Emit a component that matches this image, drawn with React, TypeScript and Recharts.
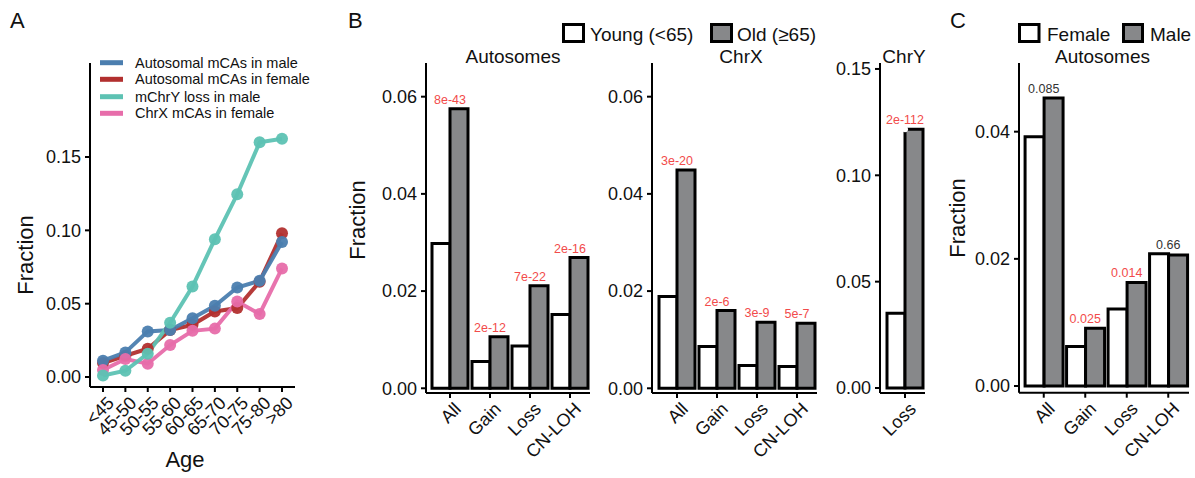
import { LineChart, Line, ComposedChart, Bar, XAxis, YAxis, LabelList } from 'recharts'

const FONT = '"Liberation Sans", Arial, Helvetica, sans-serif'
const INK = '#111'
const GREY = '#87888a'
const PAGE_H = 478

// ---- panel A: fraction by age group ----
const ageGroups = ['<45', '45-50', '50-55', '55-60', '60-65', '65-70', '70-75', '75-80', '>80']
const autoMale = [0.0111, 0.0168, 0.0311, 0.032, 0.040, 0.0486, 0.061, 0.0656, 0.092]
const autoFemale = [0.0095, 0.0145, 0.0193, 0.032, 0.0356, 0.0447, 0.047, 0.065, 0.098]
const chrYLossMale = [0.001, 0.0043, 0.0159, 0.037, 0.0617, 0.094, 0.1246, 0.160, 0.1625]
const chrXFemale = [0.0048, 0.0123, 0.0091, 0.0218, 0.0315, 0.033, 0.0515, 0.043, 0.074]
const ageTicks = [0, 0.05, 0.1, 0.15]

// legend order
const ageSeries = [
  { key: 'autoMale', name: 'Autosomal mCAs in male', color: '#4b7eaf' },
  { key: 'autoFemale', name: 'Autosomal mCAs in female', color: '#b2302f' },
  { key: 'chrY', name: 'mChrY loss in male', color: '#5dc2b3' },
  { key: 'chrX', name: 'ChrX mCAs in female', color: '#e76daa' },
]
// points are drawn in factor (alphabetical) order, on top of all lines
const drawOrder = ['autoFemale', 'autoMale', 'chrX', 'chrY']

// ---- panel B: young vs old ----
const mcaTypes = ['All', 'Gain', 'Loss', 'CN-LOH']
const autoYoung = [0.0298, 0.0055, 0.0087, 0.0152]
const autoOld = [0.0575, 0.0106, 0.0211, 0.0269]
const autoAgeP = ['8e-43', '2e-12', '7e-22', '2e-16']
const chrXYoung = [0.0189, 0.0086, 0.0047, 0.0045]
const chrXOld = [0.0449, 0.016, 0.0136, 0.0134]
const chrXAgeP = ['3e-20', '2e-6', '3e-9', '5e-7']
const chrYTypes = ['Loss']
const chrYYoung = [0.0352]
const chrYOld = [0.1217]
const chrYAgeP = ['2e-112']
const smallTicks = [0, 0.02, 0.04, 0.06]
const chrYTicks = [0, 0.05, 0.1, 0.15]

// ---- panel C: female vs male ----
const autoFemaleFrac = [0.0392, 0.0062, 0.0121, 0.0208]
const autoMaleFrac = [0.0453, 0.0091, 0.0163, 0.0206]
const sexP = ['0.085', '0.025', '0.014', '0.66']
const sexTicks = [0, 0.02, 0.04]

type Frame = { left: number; top: number; right: number; bottom: number }

const PAD = 80
const Y_W = 60
const X_H = 60

function wrap(f: Frame) {
  return {
    style: { position: 'absolute' as const, left: f.left - PAD, top: 0 },
    width: f.right - f.left + PAD + 12,
    margin: { left: PAD - Y_W, right: 12, top: f.top, bottom: PAGE_H - f.bottom - X_H },
  }
}

const axisStroke = { stroke: '#000', strokeWidth: 2 }
const fmt = (v: number) => v.toFixed(2)

function SlantTick({ x, y, payload }: any) {
  return (
    <text
      transform={`translate(${x + 3},${y + 1}) rotate(-45)`}
      textAnchor="end"
      dy="0.72em"
      fontSize={18}
      fill={INK}
    >
      {payload.value}
    </text>
  )
}

function PLabel(props: any) {
  const x = props.x ?? props.viewBox?.x
  const y = props.y ?? props.viewBox?.y
  const sig = parseFloat(props.value) < 0.05
  return (
    <text x={x} y={y - 5} textAnchor="middle" fontSize={12.5} fill={sig ? '#f24b4b' : '#333'}>
      {props.value}
    </text>
  )
}

function AgePanel() {
  const f: Frame = { left: 90, top: 63, right: 295, bottom: 387 }
  const w = wrap(f)
  const rows = ageGroups.map((g, i) => ({
    age: g,
    autoMale: autoMale[i],
    autoFemale: autoFemale[i],
    chrY: chrYLossMale[i],
    chrX: chrXFemale[i],
  }))
  const colorOf = (k: string) => ageSeries.find((s) => s.key === k)!.color
  return (
    <div style={w.style}>
      <LineChart width={w.width} height={PAGE_H} data={rows} margin={w.margin}>
        <XAxis
          dataKey="age"
          height={X_H}
          interval={0}
          padding={{ left: 13, right: 13 }}
          axisLine={axisStroke}
          tickLine={axisStroke}
          tickSize={5}
          tickMargin={2}
          tick={<SlantTick />}
        />
        <YAxis
          width={Y_W}
          type="number"
          domain={[-0.0068, 0.2141]}
          allowDataOverflow
          ticks={ageTicks}
          tickFormatter={fmt}
          axisLine={axisStroke}
          tickLine={axisStroke}
          tickSize={5}
          tickMargin={4}
          tick={{ fontSize: 18, fill: INK }}
        />
        {drawOrder.map((k) => (
          <Line
            key={'l-' + k}
            dataKey={k}
            stroke={colorOf(k)}
            strokeWidth={4}
            strokeOpacity={0.95}
            dot={false}
            activeDot={false}
            isAnimationActive={false}
          />
        ))}
        {drawOrder.map((k) => (
          <Line
            key={'p-' + k}
            dataKey={k}
            stroke="none"
            dot={{ r: 6, fill: colorOf(k), fillOpacity: 0.95, stroke: 'none' }}
            activeDot={false}
            isAnimationActive={false}
          />
        ))}
      </LineChart>
    </div>
  )
}

type BarPanelProps = {
  frame: Frame
  padLeft: number
  cats: string[]
  first: number[]
  second: number[]
  p: string[]
  domain: [number, number]
  ticks: number[]
}

function BarPanel({ frame, padLeft, cats, first, second, p, domain, ticks }: BarPanelProps) {
  const w = wrap(frame)
  const rows = cats.map((c, i) => ({
    type: c,
    first: first[i],
    second: second[i],
    top: Math.max(first[i], second[i]),
    p: p[i],
  }))
  return (
    <div style={w.style}>
      <ComposedChart
        width={w.width}
        height={PAGE_H}
        data={rows}
        margin={w.margin}
        barCategoryGap="5%"
        barGap={0}
      >
        <XAxis
          dataKey="type"
          height={X_H}
          interval={0}
          padding={{ left: padLeft, right: 0 }}
          axisLine={axisStroke}
          tickLine={axisStroke}
          tickSize={5}
          tickMargin={2}
          tick={<SlantTick />}
        />
        <YAxis
          width={Y_W}
          type="number"
          domain={domain}
          allowDataOverflow
          ticks={ticks}
          tickFormatter={fmt}
          axisLine={axisStroke}
          tickLine={axisStroke}
          tickSize={5}
          tickMargin={4}
          tick={{ fontSize: 18, fill: INK }}
        />
        <Bar dataKey="first" fill="#fff" stroke="#000" strokeWidth={3} isAnimationActive={false} />
        <Bar dataKey="second" fill={GREY} stroke="#000" strokeWidth={3} isAnimationActive={false} />
        <Line dataKey="top" stroke="none" dot={false} activeDot={false} isAnimationActive={false}>
          <LabelList dataKey="p" content={<PLabel />} />
        </Line>
      </ComposedChart>
    </div>
  )
}

function Overlay() {
  const legendRowsY = [62.7, 79.3, 96.7, 113.3]
  return (
    <svg
      width={1195}
      height={PAGE_H}
      style={{ position: 'absolute', left: 0, top: 0, pointerEvents: 'none' }}
      fontFamily={FONT}
      fill={INK}
    >
      <text x={10} y={28} fontSize={22}>A</text>
      <text x={348} y={28} fontSize={22}>B</text>
      <text x={950} y={28} fontSize={22}>C</text>

      {ageSeries.map((s, i) => (
        <g key={s.key}>
          <line x1={100} x2={123} y1={legendRowsY[i]} y2={legendRowsY[i]} stroke={s.color} strokeWidth={5} />
          <text x={135} y={legendRowsY[i] + 5} fontSize={14.5}>{s.name}</text>
        </g>
      ))}

      <text transform="translate(25,255) rotate(-90)" textAnchor="middle" dominantBaseline="central" fontSize={22}>Fraction</text>
      <text x={185} y={467} textAnchor="middle" fontSize={22}>Age</text>

      <rect x={563.5} y={24.5} width={20} height={17} fill="#fff" stroke="#000" strokeWidth={3} />
      <text x={590} y={40.5} fontSize={19}>Young (&lt;65)</text>
      <rect x={711.5} y={24.5} width={20} height={17} fill={GREY} stroke="#000" strokeWidth={3} />
      <text x={737} y={40.5} fontSize={19}>Old (≥65)</text>

      <text x={513} y={63} textAnchor="middle" fontSize={19}>Autosomes</text>
      <text x={741} y={63} textAnchor="middle" fontSize={19}>ChrX</text>
      <text x={904} y={63} textAnchor="middle" fontSize={19}>ChrY</text>
      <text transform="translate(357,220) rotate(-90)" textAnchor="middle" dominantBaseline="central" fontSize={22}>Fraction</text>

      <rect x={1019.5} y={24.5} width={19.5} height={17} fill="#fff" stroke="#000" strokeWidth={3} />
      <text x={1047} y={40.5} fontSize={19}>Female</text>
      <rect x={1123.5} y={24.5} width={19} height={17} fill={GREY} stroke="#000" strokeWidth={3} />
      <text x={1150} y={40.5} fontSize={19}>Male</text>
      <text x={1102.5} y={63} textAnchor="middle" fontSize={19}>Autosomes</text>
      <text transform="translate(957,218) rotate(-90)" textAnchor="middle" dominantBaseline="central" fontSize={22}>Fraction</text>
    </svg>
  )
}

export default function App() {
  return (
    <div
      style={{
        position: 'absolute',
        left: 0,
        top: 0,
        width: 1195,
        height: PAGE_H,
        background: '#fff',
        fontFamily: FONT,
        overflow: 'hidden',
      }}
    >
      <AgePanel />
      <BarPanel
        frame={{ left: 426, top: 63, right: 590, bottom: 393 }}
        padLeft={4}
        cats={mcaTypes}
        first={autoYoung}
        second={autoOld}
        p={autoAgeP}
        domain={[-0.00097, 0.06693]}
        ticks={smallTicks}
      />
      <BarPanel
        frame={{ left: 652, top: 63, right: 817, bottom: 393 }}
        padLeft={5}
        cats={mcaTypes}
        first={chrXYoung}
        second={chrXOld}
        p={chrXAgeP}
        domain={[-0.00097, 0.06693]}
        ticks={smallTicks}
      />
      <BarPanel
        frame={{ left: 880, top: 63, right: 925, bottom: 393 }}
        padLeft={5}
        cats={chrYTypes}
        first={chrYYoung}
        second={chrYOld}
        p={chrYAgeP}
        domain={[-0.00235, 0.1528]}
        ticks={chrYTicks}
      />
      <BarPanel
        frame={{ left: 1019, top: 63, right: 1189, bottom: 392.7 }}
        padLeft={4}
        cats={mcaTypes}
        first={autoFemaleFrac}
        second={autoMaleFrac}
        p={sexP}
        domain={[-0.00105, 0.0508]}
        ticks={sexTicks}
      />
      <Overlay />
    </div>
  )
}
